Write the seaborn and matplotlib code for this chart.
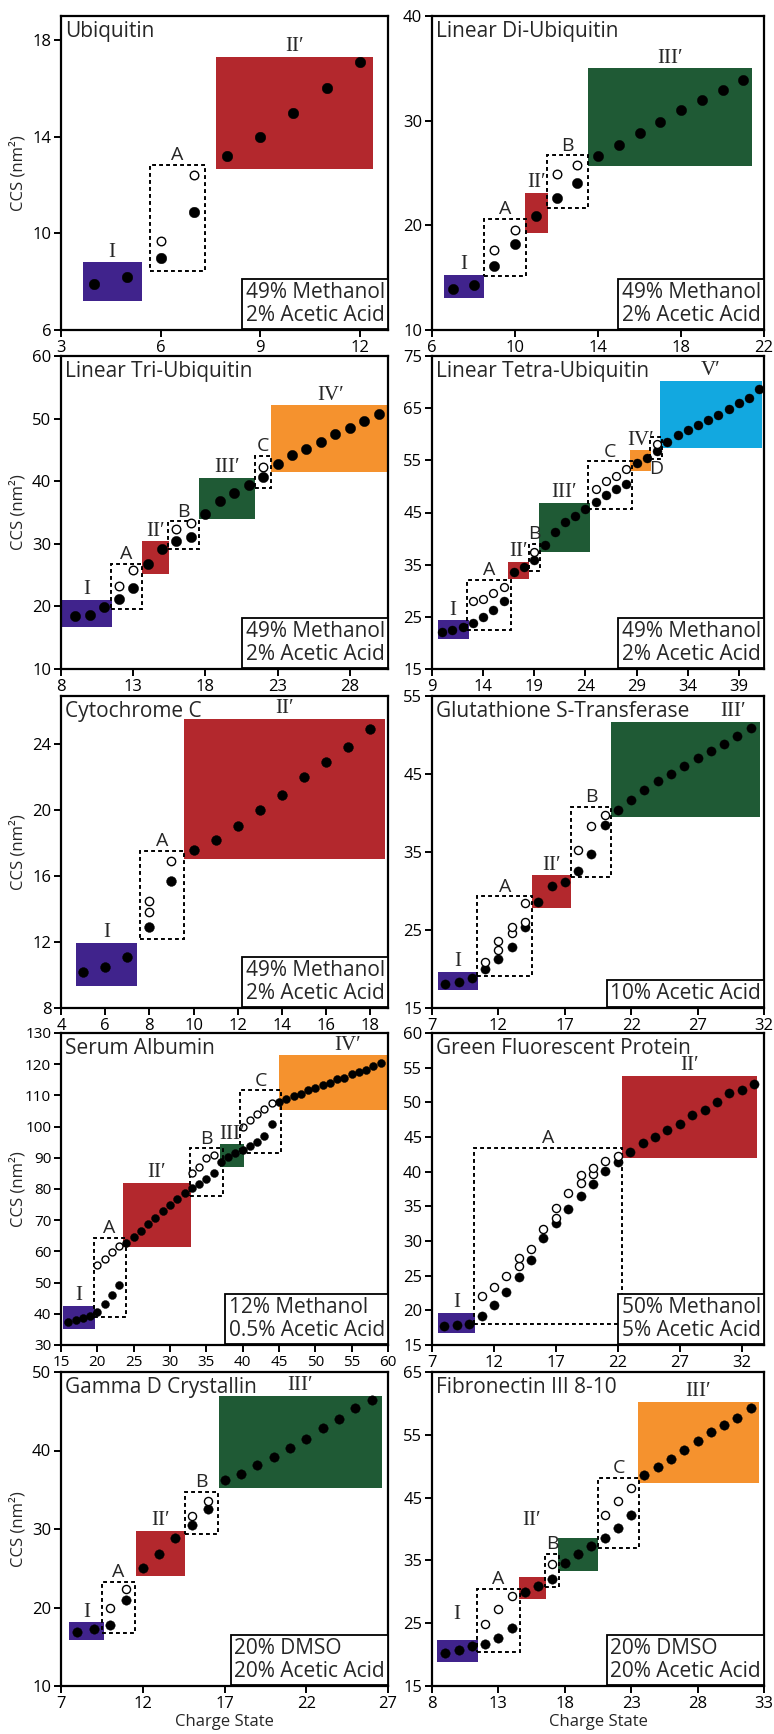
import matplotlib
matplotlib.use("Agg")
import matplotlib.pyplot as plt
from matplotlib.patches import Rectangle
import pandas as pd
import seaborn as sns

# values: filled = compact ions, open = extended ions
# regions: (label, z_from, z_to, ccs_from, ccs_to, kind)

UBQ_Z = [4, 5, 6, 7, 8, 9, 10, 11, 12]
UBQ_CCS = [7.9, 8.2, 9.0, 10.9, 13.2, 14.0, 15.0, 16.0, 17.1]
UBQ_Z_OPEN = [6, 7]
UBQ_CCS_OPEN = [9.7, 12.4]
UBQ_REGIONS = [("I", 3.65, 5.43, 7.2, 8.8, "purple"),
               ("A", 5.68, 7.34, 8.46, 12.83, "dashed"),
               ("II′", 7.67, 12.39, 12.66, 17.31, "red")]
UBQ_XTICKS = [3, 6, 9, 12]
UBQ_YTICKS = [6, 10, 14, 18]

DI_Z = [7, 8, 9, 10, 11, 12, 13, 14, 15, 16, 17, 18, 19, 20, 21]
DI_CCS = [13.9, 14.3, 16.1, 18.2, 20.9, 22.6, 24.0, 26.6, 27.7, 28.8, 29.9, 31.0, 32.0, 32.9, 33.9]
DI_Z_OPEN = [9, 10, 12, 13]
DI_CCS_OPEN = [17.6, 19.6, 24.9, 25.8]
DI_REGIONS = [("I", 6.56, 8.52, 13.1, 15.3, "purple"),
              ("A", 8.49, 10.53, 15.2, 20.6, "dashed"),
              ("II′", 10.5, 11.6, 19.3, 23.1, "red"),
              ("B", 11.56, 13.52, 21.7, 26.7, "dashed"),
              ("III′", 13.52, 21.43, 25.7, 35.0, "green")]
DI_XTICKS = [6, 10, 14, 18, 22]
DI_YTICKS = [10, 20, 30, 40]

TRI_Z = [9, 10, 11, 12, 13, 14, 15, 16, 17, 18, 19, 20, 21, 22, 23, 24, 25, 26, 27, 28, 29, 30]
TRI_CCS = [18.4, 18.6, 19.9, 21.2, 22.9, 26.8, 29.2, 30.4, 31.1, 34.8, 36.8, 38.1, 39.4, 40.6,
           42.8, 44.2, 45.2, 46.2, 47.5, 48.5, 49.6, 50.8]
TRI_Z_OPEN = [12, 13, 16, 17, 22]
TRI_CCS_OPEN = [23.3, 25.8, 32.4, 33.4, 42.3]
TRI_REGIONS = [("I", 8.05, 11.55, 16.7, 21.1, "purple"),
               ("A", 11.46, 13.58, 19.6, 26.8, "dashed"),
               ("II′", 13.58, 15.5, 25.2, 30.4, "red"),
               ("B", 15.43, 17.57, 29.2, 33.6, "dashed"),
               ("III′", 17.55, 21.43, 33.9, 40.5, "green"),
               ("C", 21.43, 22.58, 38.9, 44.0, "dashed"),
               ("IV′", 22.53, 30.8, 41.4, 52.1, "orange")]
TRI_XTICKS = [8, 13, 18, 23, 28]
TRI_YTICKS = [10, 20, 30, 40, 50, 60]

TET_Z = [10, 11, 12, 13, 14, 15, 16, 17, 18, 19, 20, 21, 22, 23, 24, 25,
         26, 27, 28, 29, 30, 31, 32, 33, 34, 35, 36, 37, 38, 39, 40, 41]
TET_CCS = [22.1, 22.5, 23.1, 23.9, 25.0, 26.3, 28.1, 33.5, 34.5, 35.9, 38.8, 41.2, 43.1, 44.4, 45.7, 47.0,
           48.3, 49.6, 50.5, 54.4, 55.5, 56.8, 58.6, 59.8, 60.8, 61.8, 62.7, 63.7, 64.8, 65.9, 67.0, 68.7]
TET_Z_OPEN = [13, 14, 15, 16, 19, 25, 26, 27, 28, 31]
TET_CCS_OPEN = [28.0, 28.4, 29.5, 30.8, 37.4, 49.5, 51.0, 52.0, 53.4, 58.2]
TET_REGIONS = [("I", 9.55, 12.6, 20.7, 24.3, "purple"),
               ("A", 12.4, 16.75, 22.5, 32.1, "dashed"),
               ("II′", 16.4, 18.5, 32.2, 35.6, "red"),
               ("B", 18.45, 19.6, 33.8, 39.0, "dashed"),
               ("III′", 19.5, 24.4, 37.5, 46.8, "green"),
               ("C", 24.2, 28.5, 45.6, 54.8, "dashed"),
               ("IV′", 28.4, 30.4, 53.0, 56.9, "orange"),
               ("D", 30.3, 31.5, 55.3, 59.5, "dashed"),
               ("V′", 31.25, 41.3, 57.3, 70.2, "cyan")]
TET_XTICKS = [9, 14, 19, 24, 29, 34, 39]
TET_YTICKS = [15, 25, 35, 45, 55, 65, 75]

CYT_Z = [5, 6, 7, 8, 9, 10, 11, 12, 13, 14, 15, 16, 17, 18]
CYT_CCS = [10.2, 10.5, 11.1, 12.9, 15.7, 17.6, 18.2, 19.0, 20.0, 20.9, 22.0, 22.9, 23.8, 24.9]
CYT_Z_OPEN = [8, 8, 9]
CYT_CCS_OPEN = [13.8, 14.5, 16.9]
CYT_REGIONS = [("I", 4.66, 7.44, 9.36, 11.95, "purple"),
               ("A", 7.56, 9.57, 12.2, 17.5, "dashed"),
               ("II′", 9.55, 18.65, 17.05, 25.5, "red")]
CYT_XTICKS = [4, 6, 8, 10, 12, 14, 16, 18]
CYT_YTICKS = [8, 12, 16, 20, 24]

GST_Z = [8, 9, 10, 11, 12, 13, 14, 15, 16, 17, 18, 19, 20, 21, 22, 23, 24, 25, 26, 27, 28, 29, 30, 31]
GST_CCS = [18.1, 18.3, 18.9, 20.0, 21.3, 22.8, 25.4, 28.6, 30.7, 31.2, 32.6, 34.7, 38.5, 40.4,
           41.7, 42.9, 44.1, 45.0, 46.0, 47.0, 47.9, 48.9, 49.9, 50.9]
GST_Z_OPEN = [11, 12, 12, 13, 13, 14, 14, 18, 19, 20]
GST_CCS_OPEN = [20.9, 22.4, 23.6, 24.6, 25.4, 26.0, 28.4, 35.2, 38.3, 39.8]
GST_REGIONS = [("I", 7.43, 10.47, 17.3, 19.6, "purple"),
               ("A", 10.4, 14.55, 19.1, 29.3, "dashed"),
               ("II′", 14.5, 17.5, 27.8, 32.0, "red"),
               ("B", 17.5, 20.5, 31.8, 40.75, "dashed"),
               ("III′", 20.45, 31.7, 39.5, 51.7, "green")]
GST_XTICKS = [7, 12, 17, 22, 27, 32]
GST_YTICKS = [15, 25, 35, 45, 55]

SER_Z = [16, 17, 18, 19, 20, 21, 22, 23, 24, 25, 26, 27, 28, 29, 30, 31, 32, 33, 34, 35, 36, 37,
         38, 39, 40, 41, 42, 43, 44, 45, 46, 47, 48, 49, 50, 51, 52, 53, 54, 55, 56, 57, 58, 59]
SER_CCS = [37.5, 38.0, 38.5, 39.2, 40.5, 43.0, 45.9, 49.3, 62.7, 64.7, 66.6, 68.8, 70.7, 72.9, 74.8,
           76.9, 78.7, 80.3, 81.6, 83.2, 85.0, 88.6, 90.4, 91.6, 92.6, 93.7, 95.0, 96.9, 100.7, 107.8,
           108.7, 109.7, 110.4, 111.6, 112.3, 113.4, 114.1, 115.1, 115.7, 116.9, 117.6, 118.3, 119.4, 120.3]
SER_Z_OPEN = [20, 21, 22, 23, 33, 34, 35, 36, 40, 41, 42, 43, 44]
SER_CCS_OPEN = [55.5, 57.5, 59.7, 61.8, 85.0, 87.1, 90.0, 90.8, 100.0, 102.1, 104.0, 105.8, 107.6]
SER_REGIONS = [("I", 15.3, 19.7, 35.1, 42.5, "purple"),
               ("A", 19.5, 23.9, 38.9, 64.3, "dashed"),
               ("II′", 23.5, 32.9, 61.4, 82.0, "red"),
               ("B", 32.7, 37.3, 77.7, 93.0, "dashed"),
               ("III′", 36.9, 40.2, 87.0, 94.3, "green"),
               ("C", 39.7, 45.3, 91.5, 111.6, "dashed"),
               ("IV′", 45.0, 60.0, 105.2, 122.9, "orange")]
SER_XTICKS = [15, 20, 25, 30, 35, 40, 45, 50, 55, 60]
SER_YTICKS = [30, 40, 50, 60, 70, 80, 90, 100, 110, 120, 130]

GFP_Z = [8, 9, 10, 11, 12, 13, 14, 15, 16, 17, 18, 19, 20, 21, 22, 23, 24, 25, 26, 27, 28, 29, 30, 31, 32, 33]
GFP_CCS = [17.7, 17.9, 18.0, 19.2, 20.8, 22.7, 24.8, 27.3, 30.4, 32.6, 34.6, 36.5, 38.2, 40.1, 41.4,
           42.9, 44.2, 45.0, 46.0, 46.9, 48.2, 48.9, 50.1, 51.3, 51.8, 52.7]
GFP_Z_OPEN = [11, 12, 13, 14, 14, 15, 16, 17, 17, 18, 19, 19, 20, 20, 21, 22]
GFP_CCS_OPEN = [22.1, 23.3, 24.9, 26.4, 27.6, 28.8, 31.7, 33.3, 34.8, 36.9, 38.3, 39.5, 39.6, 40.6, 41.6, 42.3]
GFP_REGIONS = [("I", 7.5, 10.5, 16.7, 19.6, "purple"),
               ("A", 10.4, 22.3, 18.0, 43.4, "dashed"),
               ("II′", 22.3, 33.25, 41.9, 53.8, "red")]
GFP_XTICKS = [7, 12, 17, 22, 27, 32]
GFP_YTICKS = [15, 20, 25, 30, 35, 40, 45, 50, 55, 60]

GAM_Z = [8, 9, 10, 11, 12, 13, 14, 15, 16, 17, 18, 19, 20, 21, 22, 23, 24, 25, 26]
GAM_CCS = [16.9, 17.2, 17.8, 20.9, 25.0, 26.8, 28.8, 30.5, 32.6, 36.3, 37.0, 38.2, 39.2, 40.3,
           41.5, 42.9, 44.0, 45.4, 46.4]
GAM_Z_OPEN = [10, 11, 15, 16]
GAM_CCS_OPEN = [19.9, 22.3, 31.6, 33.6]
GAM_REGIONS = [("I", 7.5, 9.6, 15.8, 18.1, "purple"),
               ("A", 9.5, 11.5, 16.7, 23.3, "dashed"),
               ("II′", 11.6, 14.6, 24.0, 29.75, "red"),
               ("B", 14.6, 16.6, 29.3, 34.7, "dashed"),
               ("III′", 16.65, 26.65, 35.25, 47.0, "green")]
GAM_XTICKS = [7, 12, 17, 22, 27]
GAM_YTICKS = [10, 20, 30, 40, 50]

FIB_Z = [9, 10, 11, 12, 13, 14, 15, 16, 17, 18, 19, 20, 21, 22, 23, 24, 25, 26, 27, 28, 29, 30, 31, 32]
FIB_CCS = [20.3, 20.8, 21.3, 21.7, 22.6, 24.2, 30.0, 31.0, 32.1, 34.6, 36.0, 37.3, 38.5, 40.1,
           42.2, 48.6, 49.8, 51.2, 52.6, 54.0, 55.4, 56.5, 57.7, 59.2]
FIB_Z_OPEN = [12, 13, 14, 17, 21, 22, 23]
FIB_CCS_OPEN = [24.8, 27.2, 29.3, 34.4, 42.2, 44.5, 46.5]
FIB_REGIONS = [("I", 8.4, 11.5, 18.9, 22.4, "purple"),
               ("A", 11.4, 14.6, 20.4, 30.5, "dashed"),
               ("II′", 14.55, 16.55, 28.9, 32.4, "red"),
               ("B", 16.5, 17.6, 30.8, 36.0, "dashed"),
               ("", 17.5, 20.5, 33.3, 38.5, "green"),
               ("C", 20.5, 23.6, 37.0, 48.1, "dashed"),
               ("III′", 23.5, 32.6, 47.3, 60.3, "orange")]
FIB_XTICKS = [8, 13, 18, 23, 28, 33]
FIB_YTICKS = [15, 25, 35, 45, 55, 65]

MEOH = "49% Methanol\n2% Acetic Acid"
PANELS = [
    ("ubq", "Ubiquitin", MEOH, UBQ_Z, UBQ_CCS, UBQ_Z_OPEN, UBQ_CCS_OPEN, UBQ_REGIONS,
     UBQ_XTICKS, UBQ_YTICKS, (3, 12.85), (6, 19)),
    ("di", "Linear Di-Ubiquitin", MEOH, DI_Z, DI_CCS, DI_Z_OPEN, DI_CCS_OPEN, DI_REGIONS,
     DI_XTICKS, DI_YTICKS, (6, 22), (10, 40)),
    ("tri", "Linear Tri-Ubiquitin", MEOH, TRI_Z, TRI_CCS, TRI_Z_OPEN, TRI_CCS_OPEN, TRI_REGIONS,
     TRI_XTICKS, TRI_YTICKS, (8, 30.65), (10, 60)),
    ("tet", "Linear Tetra-Ubiquitin", MEOH, TET_Z, TET_CCS, TET_Z_OPEN, TET_CCS_OPEN, TET_REGIONS,
     TET_XTICKS, TET_YTICKS, (9, 41.45), (15, 75)),
    ("cyt", "Cytochrome C", MEOH, CYT_Z, CYT_CCS, CYT_Z_OPEN, CYT_CCS_OPEN, CYT_REGIONS,
     CYT_XTICKS, CYT_YTICKS, (4, 18.8), (8, 26.9)),
    ("gst", "Glutathione S-Transferase", "10% Acetic Acid", GST_Z, GST_CCS, GST_Z_OPEN, GST_CCS_OPEN,
     GST_REGIONS, GST_XTICKS, GST_YTICKS, (7, 32), (15, 55)),
    ("ser", "Serum Albumin", "12% Methanol\n0.5% Acetic Acid", SER_Z, SER_CCS, SER_Z_OPEN, SER_CCS_OPEN,
     SER_REGIONS, SER_XTICKS, SER_YTICKS, (15, 60), (30, 130)),
    ("gfp", "Green Fluorescent Protein", "50% Methanol\n5% Acetic Acid", GFP_Z, GFP_CCS, GFP_Z_OPEN,
     GFP_CCS_OPEN, GFP_REGIONS, GFP_XTICKS, GFP_YTICKS, (7, 33.8), (15, 60)),
    ("gam", "Gamma D Crystallin", "20% DMSO\n20% Acetic Acid", GAM_Z, GAM_CCS, GAM_Z_OPEN, GAM_CCS_OPEN,
     GAM_REGIONS, GAM_XTICKS, GAM_YTICKS, (7, 27), (10, 50)),
    ("fib", "Fibronectin III 8-10", "20% DMSO\n20% Acetic Acid", FIB_Z, FIB_CCS, FIB_Z_OPEN, FIB_CCS_OPEN,
     FIB_REGIONS, FIB_XTICKS, FIB_YTICKS, (8, 33), (15, 65)),
]

FILL = {"purple": "#40238c", "red": "#b3282d", "green": "#1f5a35",
        "orange": "#f5922e", "cyan": "#12a8e0"}

# label spots that are not simply centred on top of their box
LABEL_AT = {("gst", "III′"): (29.7, 51.8), ("ser", "IV′"): (54.4, 123.0),
            ("fib", "II′"): (15.5, 39.8), ("fib", "I"): (9.9, 24.9)}
LABEL_BELOW = {("tet", "D")}

# marker area (filled, open) per panel
MARKER = {"ubq": (58, 38), "di": (55, 38), "tri": (55, 38), "tet": (42, 32), "cyt": (50, 36),
          "gst": (44, 34), "ser": (33, 25), "gfp": (44, 34), "gam": (46, 34), "fib": (46, 34)}

SANS = ["Open Sans", "DejaVu Sans"]
SERIF = ["Liberation Serif", "DejaVu Serif"]

sns.set_theme(style="ticks", rc={"axes.edgecolor": "black", "xtick.color": "black",
                                 "ytick.color": "black", "axes.linewidth": 1.6})
plt.rcParams["font.family"] = SANS

W, H = 774, 1734
COL_X = [(61, 388), (432, 764)]
ROW_Y = [(16, 330), (356, 669), (696, 1008), (1033, 1345), (1372, 1686)]

fig = plt.figure(figsize=(W / 100, H / 100), dpi=100)

for i, (key, title, cond, z, ccs, z_o, ccs_o, regions, xt, yt, xlim, ylim) in enumerate(PANELS):
    row, col = divmod(i, 2)
    x0, x1 = COL_X[col]
    y0, y1 = ROW_Y[row]
    ax = fig.add_axes([x0 / W, 1 - y1 / H, (x1 - x0) / W, (y1 - y0) / H])

    for label, za, zb, ca, cb, kind in regions:
        if kind == "dashed":
            ax.add_patch(Rectangle((za, ca), zb - za, cb - ca, fill=False, ec="black",
                                   lw=1.4, ls=(0, (2, 1.6)), zorder=2))
        else:
            ax.add_patch(Rectangle((za, ca), zb - za, cb - ca, fc=FILL[kind], ec="none", zorder=1))
        if not label:
            continue
        roman = label[0] in "IV"
        kw = dict(fontsize=15 if roman else 14, family=SERIF if roman else SANS,
                  ha="center", zorder=6)
        if (key, label) in LABEL_AT:
            lx, ly = LABEL_AT[(key, label)]
            ax.text(lx, ly, label, va="bottom", **kw)
        elif (key, label) in LABEL_BELOW:
            ax.annotate(label, ((za + zb) / 2, ca), xytext=(0, -1), textcoords="offset points",
                        va="top", **kw)
        else:
            ax.annotate(label, ((za + zb) / 2, cb), xytext=(0, 0.5), textcoords="offset points",
                        va="bottom", **kw)

    s_fill, s_open = MARKER[key]
    filled = pd.DataFrame({"charge": z, "ccs": ccs})
    opened = pd.DataFrame({"charge": z_o, "ccs": ccs_o})
    sns.scatterplot(data=filled, x="charge", y="ccs", ax=ax, s=s_fill, color="black",
                    edgecolor="black", linewidth=0.3, zorder=4, legend=False)
    sns.scatterplot(data=opened, x="charge", y="ccs", ax=ax, s=s_open, color="white",
                    edgecolor="black", linewidth=1.0, zorder=5, legend=False)

    ax.set_xlim(*xlim)
    ax.set_ylim(*ylim)
    ax.set_xticks(xt)
    ax.set_yticks(yt)
    ax.tick_params(length=5, width=1.4, pad=2, labelsize=11 if key == "ser" else 12)
    for sp in ax.spines.values():
        sp.set_visible(True)
        sp.set_linewidth(1.6)
    ax.set_xlabel("")
    ax.set_ylabel("")

    ax.text(0.012, 0.985, title, transform=ax.transAxes, ha="left", va="top", fontsize=15, zorder=7)
    ax.text(0.99, 0.012, cond, transform=ax.transAxes, ha="right", va="bottom", fontsize=15,
            linespacing=1.15, multialignment="left", zorder=7,
            bbox=dict(boxstyle="square,pad=0.15", fc="white", ec="black", lw=1.3))

    if col == 0:
        ax.set_ylabel("CCS (nm²)", fontsize=12)
        ax.yaxis.set_label_coords(-0.105, 0.5)
    if row == 4:
        ax.set_xlabel("Charge State", fontsize=12)
        ax.xaxis.set_label_coords(0.5, -0.088)

fig.savefig("out.png", dpi=100)
